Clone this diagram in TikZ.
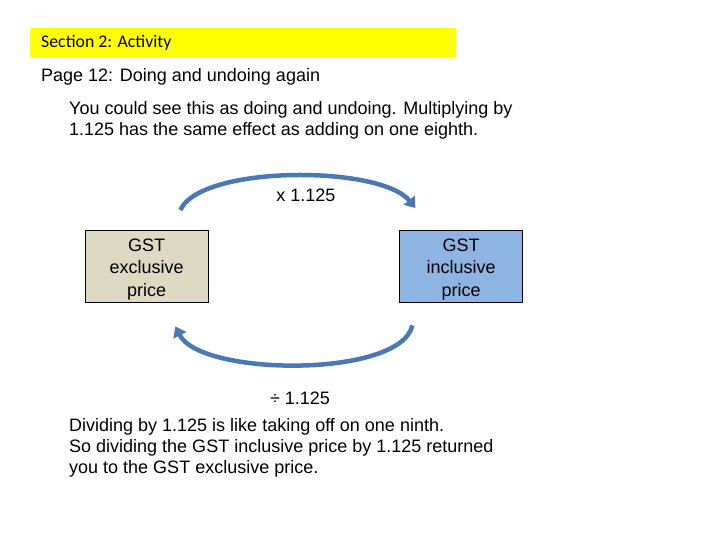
\documentclass[tikz,border=0pt]{standalone}
\usepackage{fontspec}
\setmainfont{Liberation Sans}
\newfontfamily\calibrifont{Carlito}
\usetikzlibrary{positioning,arrows.meta}
\definecolor{hilite}{HTML}{FFFF00}
\definecolor{exfill}{HTML}{DDD9C3}
\definecolor{infill}{HTML}{8DB4E2}
\definecolor{arcblue}{HTML}{4A78B5}

\begin{document}
\begin{tikzpicture}[x=1pt, y=-1pt,
    txt/.style={inner sep=0pt, anchor=base west, align=left, font=\fontsize{18}{21}\selectfont},
    pricebox/.style={draw, minimum width=123pt, minimum height=72pt, align=center, inner sep=0pt, font=\fontsize{18}{22.5}\selectfont},
    flow/.style={arcblue, line width=4.5pt, -{Triangle[width=14pt,length=10pt]}}]
  \useasboundingbox (0,0) rectangle (720,540);
  % header
  \node (band) [fill=hilite, minimum width=426pt, minimum height=29pt, inner sep=0pt, anchor=north west] at (30,28) {};
  \node (sec) [inner sep=0pt, anchor=base west, font=\calibrifont\fontsize{17.8}{20}\selectfont] at (41,48) {Section 2: Activity};
  \node (title) [txt] at (41,82) {Page 12: Doing and undoing again};
  % base of a multi-line node is its last line
  \node (intro) [txt] at (69,136) {You could see this as doing and undoing. Multiplying by\\1.125 has the same effect as adding on one eighth.};
  % the two prices (strut pushes the text a little down)
  \node (exc) [pricebox, fill=exfill, anchor=north west] at (85,230) {\rule{0pt}{19pt}GST\\exclusive\\price};
  \node (inc) [pricebox, fill=infill, right=191pt of exc] {\rule{0pt}{19pt}GST\\inclusive\\price};
  % doing and undoing
  \draw[flow] ([xshift=-28pt,yshift=20pt]exc.north east) .. controls +(20,-45) and +(-35,-43) .. ([xshift=16pt,yshift=22pt]inc.north west);
  \draw[flow] ([xshift=13pt,yshift=-23pt]inc.south west) .. controls +(-12,53) and +(25,50) .. ([xshift=-33pt,yshift=-24pt]exc.south east);
  \node (mul) [font=\fontsize{18}{20}\selectfont, inner sep=0pt] at (306,195) {x 1.125};
  \node (div) [font=\fontsize{18}{20}\selectfont, inner sep=0pt] at (300,398) {÷ 1.125};
  \node (outro) [txt] at (69,473) {Dividing by 1.125 is like taking off on one ninth.\\So dividing the GST inclusive price by 1.125 returned\\you to the GST exclusive price.};
\end{tikzpicture}
\end{document}
